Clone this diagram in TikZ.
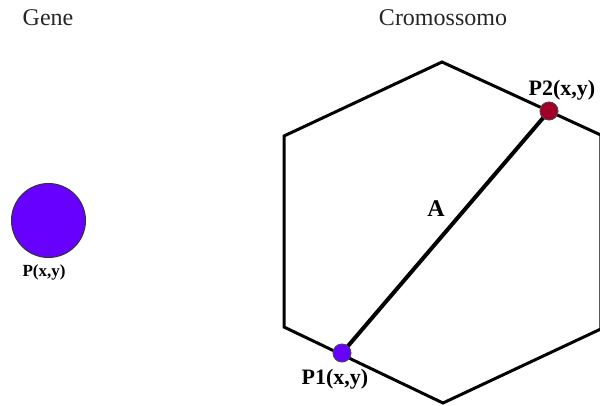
\documentclass[tikz,border=0pt]{standalone}
\usepackage{fontspec}
\setmainfont{Liberation Serif}
\definecolor{ppurple}{RGB}{104,0,255}
\definecolor{pred}{RGB}{160,0,40}
\tikzset{
  title/.style={font=\fontsize{18}{20}\selectfont, text=black!85},
  plabel/.style={font=\bfseries\fontsize{16.5}{18}\selectfont},
  hexline/.style={line width=2.25pt, line join=miter},
  dot/.style={circle, draw=black!70, line width=0.5pt, minimum size=13.5pt, inner sep=0pt}
}
\begin{document}
\begin{tikzpicture}[x=0.75pt,y=-0.75pt]
\useasboundingbox (0,0) rectangle (600,405);
\clip (0,0) rectangle (600,405);
% titles
\node[title] (gene) at (48,18) {Gene};
\node[title] (crom) at (443,18) {Cromossomo};
% gene
\node[circle, draw=black!80, line width=0.75pt, fill=ppurple, minimum size=55.5pt, inner sep=0pt] (g) at (48.5,220.5) {};
\node[font=\bfseries\fontsize{12.75}{14}\selectfont] (gl) at (44,272) {P(x,y)};
% hexagon
\coordinate (h1) at (442,62);
\coordinate (h2) at (600.8,135);
\coordinate (h3) at (600.8,329);
\coordinate (h4) at (443,403);
\coordinate (h5) at (284,327);
\coordinate (h6) at (284,136);
\draw[hexline] (h1) -- (h2) -- (h3) -- (h4) -- (h5) -- (h6) -- cycle;
% points
\node[dot, fill=ppurple] (p1) at (342,353) {};
\node[dot, fill=pred] (p2) at (549,111) {};
\draw[line width=3pt] (p1.center) -- (p2.center);
\node[dot, fill=ppurple] at (p1) {};
\node[dot, fill=pred] at (p2) {};
% labels
\node[plabel] (l2) at (562,90) {P2(x,y)};
\node[plabel] (l1) at (335,379) {P1(x,y)};
\node[font=\bfseries\fontsize{18}{20}\selectfont] (a) at (436,209) {A};
\end{tikzpicture}
\end{document}
